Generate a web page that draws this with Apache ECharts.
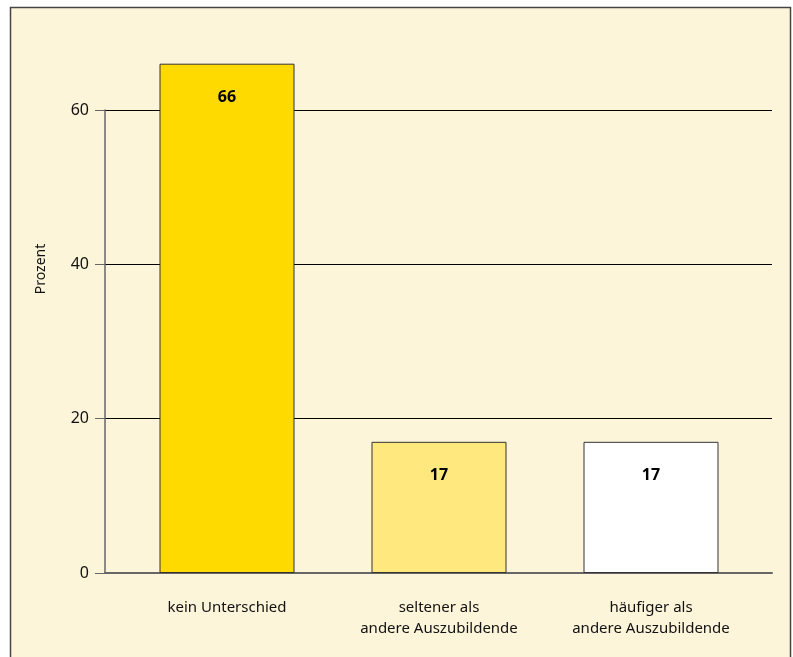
<!DOCTYPE html>
<html>
<head>
<meta charset="utf-8">
<script src="https://cdn.jsdelivr.net/npm/echarts@6/dist/echarts.min.js"></script>
<style>
  html, body { margin: 0; padding: 0; background: #ffffff; }
  #chart { width: 793px; height: 657px; }
</style>
</head>
<body>
<div id="chart"></div>
<script>
// Antworten: Häufigkeit im Vergleich zu anderen Auszubildenden
const categories = ['kein Unterschied', 'seltener als\nandere Auszubildende', 'häufiger als\nandere Auszubildende'];
const values = [66, 17, 17];
const barColors = ['#FFDA00', '#FFE97F', '#FFFFFF'];
const yTicks = [0, 20, 40, 60];
const yTitle = 'Prozent';

const FONT = '"Noto Sans", sans-serif';
const chart = echarts.init(document.getElementById('chart'), null, { renderer: 'canvas' });

chart.setOption({
  animation: false,
  backgroundColor: '#ffffff',
  graphic: [
    {
      type: 'rect',
      z: -10,
      shape: { x: 10.5, y: 7.5, width: 780, height: 700 },
      style: { fill: '#FDF5DA', stroke: '#444444', lineWidth: 1.5 }
    },
    {
      type: 'text',
      x: 41, y: 269,
      rotation: Math.PI / 2,
      style: {
        text: yTitle, fill: '#111111', font: '14px "Noto Sans", sans-serif',
        align: 'center', verticalAlign: 'middle'
      }
    }
  ],
  grid: [
    // frame grid: axis, gridlines and tick labels
    { left: 105, right: 21, top: 110, bottom: 84 },
    // bar grid: category bands
    { left: 121, width: 636, top: 110, bottom: 84 }
  ],
  xAxis: [
    {
      gridIndex: 0, type: 'value', min: 0, max: 1,
      axisLine: { show: true, onZero: false, lineStyle: { color: '#666666', width: 2 } },
      axisTick: { show: false }, axisLabel: { show: false }, splitLine: { show: false }
    },
    {
      gridIndex: 1, type: 'category', data: categories,
      axisLine: { show: false }, axisTick: { show: false },
      axisLabel: { margin: 24, color: '#111111', fontFamily: FONT, fontSize: 15, lineHeight: 21 }
    }
  ],
  yAxis: [
    {
      gridIndex: 0, type: 'value', min: 0, max: 60, interval: 20,
      axisLine: { show: true, lineStyle: { color: '#666666', width: 1.5 } },
      axisTick: { show: true, length: 10, lineStyle: { color: '#666666' } },
      axisLabel: {
        margin: 16, color: '#111111', fontFamily: FONT, fontSize: 16,
        formatter: v => (yTicks.includes(v) ? String(v) : '')
      },
      splitLine: { show: true, lineStyle: { color: '#000000', width: 1.2 } }
    },
    {
      gridIndex: 1, type: 'value', min: 0, max: 60, interval: 20,
      show: false, splitLine: { show: false }
    }
  ],
  series: [{
    type: 'bar',
    xAxisIndex: 1, yAxisIndex: 1,
    clip: false,
    barWidth: 135,
    z: 5,
    data: values.map((v, i) => ({
      value: v,
      itemStyle: { color: barColors[i], borderColor: '#333333', borderWidth: 1 }
    })),
    label: {
      show: true, position: 'insideTop', distance: 26,
      color: '#000000', fontFamily: FONT, fontSize: 16, fontWeight: 'bold'
    }
  }]
});
</script>
</body>
</html>
